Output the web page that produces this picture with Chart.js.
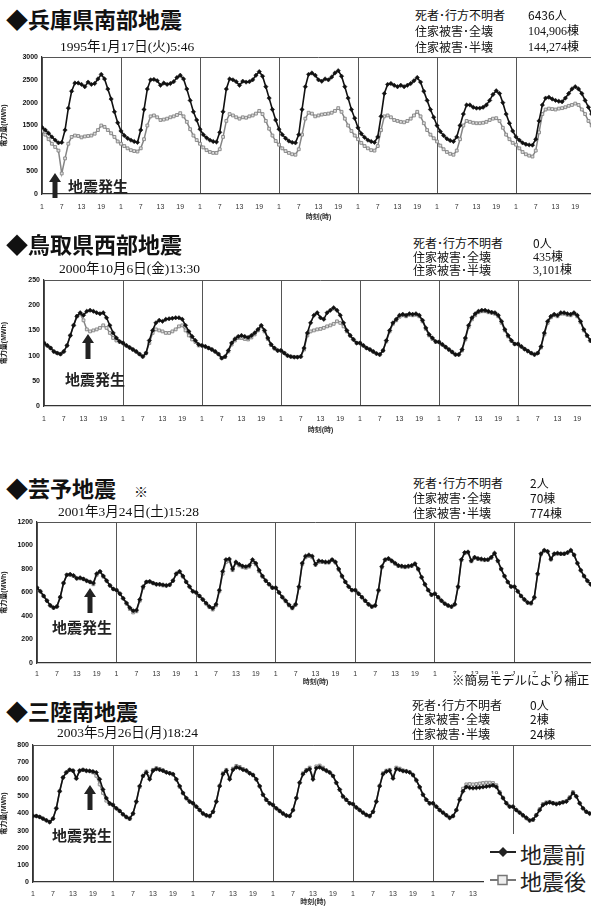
<!DOCTYPE html>
<html lang="ja">
<head>
<meta charset="utf-8">
<script src="https://cdn.jsdelivr.net/npm/chart.js@4.4.1/dist/chart.umd.min.js"></script>
<style>
body { margin:0; width:591px; height:911px; overflow:hidden; background:#fff; position:relative; font-family:"Noto Sans CJK JP", sans-serif; color:#111; }
.abs { position:absolute; white-space:nowrap; line-height:1; }
.ttl { font-size:22px; font-weight:bold; left:6px; }
.ttl small { font-size:14px; font-weight:normal; margin-left:18px; }
.date { font-family:"Liberation Serif", "Noto Sans CJK JP", serif; font-size:13.5px; }
.info { font-size:12px; }
.num { font-family:"Liberation Serif", "Noto Sans CJK JP", serif; }
.quake { font-size:15px; font-weight:bold; color:#222; }
canvas { position:absolute; left:0; }
.legend { position:absolute; left:484px; top:834px; width:110px; height:80px; background:#fff; }
.legend div { position:absolute; left:36px; font-size:22px; line-height:1; color:#222; }
</style>
</head>
<body>

<!-- 1: 兵庫県南部地震 -->
<canvas id="c1" width="620" height="175" style="top:47px"></canvas>
<div class="abs ttl" style="top:7px">◆兵庫県南部地震</div>
<div class="abs date" style="left:60px;top:40px">1995年1月17日(火)5:46</div>
<div class="abs info" style="left:415px;top:9px">死者･行方不明者</div>
<div class="abs info" style="left:528px;top:9px">6436人</div>
<div class="abs info" style="left:415px;top:25px">住家被害･全壊</div>
<div class="abs info num" style="left:528px;top:25px">104,906棟</div>
<div class="abs info" style="left:415px;top:41px">住家被害･半壊</div>
<div class="abs info num" style="left:528px;top:41px">144,274棟</div>
<svg class="abs" style="left:49px;top:173px" width="12" height="25"><polygon points="6,0 12,9 8.5,9 8.5,25 3.5,25 3.5,9 0,9" fill="#222"/></svg>
<div class="abs quake" style="left:68px;top:178px">地震発生</div>

<!-- 2: 鳥取県西部地震 -->
<canvas id="c2" width="620" height="165" style="top:270px"></canvas>
<div class="abs ttl" style="top:232px">◆鳥取県西部地震</div>
<div class="abs date" style="left:59px;top:262px">2000年10月6日(金)13:30</div>
<div class="abs info" style="left:413px;top:237px">死者･行方不明者</div>
<div class="abs info" style="left:533px;top:237px">0人</div>
<div class="abs info" style="left:413px;top:251px">住家被害･全壊</div>
<div class="abs info num" style="left:533px;top:251px">435棟</div>
<div class="abs info" style="left:413px;top:264px">住家被害･半壊</div>
<div class="abs info num" style="left:533px;top:264px">3,101棟</div>
<svg class="abs" style="left:82px;top:334px" width="12" height="25"><polygon points="6,0 12,9 8.5,9 8.5,25 3.5,25 3.5,9 0,9" fill="#222"/></svg>
<div class="abs quake" style="left:65px;top:371px">地震発生</div>

<!-- 3: 芸予地震 -->
<canvas id="c3" width="620" height="175" style="top:512px"></canvas>
<div class="abs ttl" style="top:476px">◆芸予地震<small>※</small></div>
<div class="abs date" style="left:58px;top:505px">2001年3月24日(土)15:28</div>
<div class="abs info" style="left:413px;top:477px">死者･行方不明者</div>
<div class="abs info" style="left:530px;top:477px">2人</div>
<div class="abs info" style="left:413px;top:492px">住家被害･全壊</div>
<div class="abs info" style="left:530px;top:492px">70棟</div>
<div class="abs info" style="left:413px;top:507px">住家被害･半壊</div>
<div class="abs info" style="left:530px;top:507px">774棟</div>
<svg class="abs" style="left:84px;top:588px" width="12" height="25"><polygon points="6,0 12,9 8.5,9 8.5,25 3.5,25 3.5,9 0,9" fill="#222"/></svg>
<div class="abs quake" style="left:52px;top:619px">地震発生</div>
<div class="abs" style="left:452px;top:674px;font-size:12.5px;background:#fff">※簡易モデルにより補正</div>

<!-- 4: 三陸南地震 -->
<canvas id="c4" width="620" height="172" style="top:735px"></canvas>
<div class="abs ttl" style="top:699px">◆三陸南地震</div>
<div class="abs date" style="left:57px;top:726px">2003年5月26日(月)18:24</div>
<div class="abs info" style="left:412px;top:699px">死者･行方不明者</div>
<div class="abs info" style="left:530px;top:699px">0人</div>
<div class="abs info" style="left:412px;top:713px">住家被害･全壊</div>
<div class="abs info" style="left:530px;top:713px">2棟</div>
<div class="abs info" style="left:412px;top:728px">住家被害･半壊</div>
<div class="abs info" style="left:530px;top:728px">24棟</div>
<svg class="abs" style="left:84px;top:785px" width="12" height="25"><polygon points="6,0 12,9 8.5,9 8.5,25 3.5,25 3.5,9 0,9" fill="#222"/></svg>
<div class="abs quake" style="left:52px;top:827px">地震発生</div>

<div class="legend">
  <svg style="position:absolute;left:4px;top:12px" width="30" height="12"><line x1="2" y1="6" x2="28" y2="6" stroke="#222" stroke-width="2"/><polygon points="15,1 20,6 15,11 10,6" fill="#222"/></svg>
  <div style="top:8px">地震前</div>
  <svg style="position:absolute;left:4px;top:40px" width="30" height="12"><line x1="2" y1="6" x2="28" y2="6" stroke="#777" stroke-width="2"/><rect x="10" y="1.5" width="9" height="9" fill="#eee" stroke="#777" stroke-width="1.5"/></svg>
  <div style="top:35px">地震後</div>
</div>

<script>
// hour tick labels (every 6 hours, repeating each day)
const hourTicks = ['1', '7', '13', '19'];
const hourIndex = Array.from({ length: 168 }, (_, i) => i);

// 兵庫県南部地震 1995 (MWh), 7 days x 24 hours
const hyogoBefore = [
  1460,1400,1330,1250,1180,1120,1130,1400,1880,2250,2430,2430,2400,2350,2450,2400,2420,2520,2620,2520,2300,2080,1800,1560,
  1380,1280,1220,1180,1150,1130,1400,1850,2300,2500,2510,2480,2380,2430,2400,2420,2460,2550,2600,2520,2300,2050,1800,1620,
  1420,1300,1230,1180,1150,1140,1350,1800,2300,2520,2500,2460,2380,2470,2450,2460,2500,2600,2680,2580,2350,2100,1850,1620,
  1420,1300,1220,1160,1130,1120,1300,1850,2350,2620,2650,2600,2500,2470,2520,2500,2560,2650,2700,2580,2350,2100,1850,1660,
  1450,1320,1240,1180,1150,1130,1250,1700,2200,2400,2420,2380,2350,2380,2350,2380,2420,2480,2550,2450,2250,2050,1850,1680,
  1500,1370,1280,1210,1170,1150,1250,1500,1750,1950,1950,1900,1880,1880,1900,1950,2050,2180,2260,2200,2000,1750,1550,1380,
  1250,1180,1120,1090,1075,1070,1200,1600,1950,2100,2120,2080,2050,2030,2020,2100,2200,2300,2350,2300,2200,2050,1900,1750
];
const hyogoAfter = [
  1380,1300,1200,1100,1030,950,450,780,1100,1250,1280,1270,1240,1260,1270,1280,1320,1400,1500,1470,1400,1330,1250,1150,
  1100,1050,1000,960,940,930,1000,1200,1500,1700,1720,1680,1620,1630,1650,1680,1700,1730,1770,1700,1580,1420,1280,1180,
  1100,1020,960,920,900,900,980,1250,1600,1750,1720,1680,1650,1680,1670,1700,1720,1760,1820,1750,1600,1430,1280,1160,
  1080,1000,940,900,870,860,980,1300,1650,1780,1760,1700,1720,1740,1750,1760,1780,1820,1880,1800,1650,1500,1380,1280,
  1200,1120,1050,1000,960,950,1050,1400,1700,1720,1680,1620,1600,1580,1570,1600,1650,1720,1800,1700,1550,1400,1300,1220,
  1150,1060,980,920,880,860,950,1200,1500,1600,1580,1560,1550,1550,1560,1580,1620,1650,1660,1600,1450,1300,1200,1120,
  1080,1000,920,870,840,820,950,1350,1750,1850,1870,1860,1850,1870,1880,1900,1930,1950,1980,1950,1850,1750,1600,1500
];

// 鳥取県西部地震 2000
const tottoriBefore = [
  125,120,115,108,105,103,108,120,140,160,178,185,180,188,190,188,185,183,185,175,160,145,135,128,
  125,120,116,112,108,103,98,105,130,150,165,170,168,172,173,174,175,175,172,160,148,138,130,122,
  120,118,115,112,108,103,95,98,110,125,133,138,140,138,136,140,145,152,160,150,135,122,115,110,
  110,105,100,98,97,97,98,115,145,165,180,185,175,172,185,190,195,190,180,165,150,140,132,125,
  125,120,115,112,108,104,102,110,130,150,165,172,180,182,180,183,182,183,180,170,155,142,135,128,
  127,122,117,112,107,102,102,112,135,160,175,183,188,190,190,188,186,185,180,168,152,140,130,123,
  123,118,113,109,105,102,105,118,145,168,178,182,180,185,185,183,182,185,180,168,152,140,130,122
];
const tottoriAfter = [
  125,120,115,108,105,103,108,120,140,160,178,183,170,152,148,150,152,155,160,155,145,135,130,127,
  125,120,116,112,108,103,98,105,125,145,152,150,148,145,145,148,152,158,160,150,140,132,127,120,
  120,118,115,112,108,103,95,97,108,122,130,135,135,133,132,136,142,150,158,148,133,121,114,110,
  110,105,100,98,97,97,98,112,140,148,150,152,153,155,158,160,163,168,165,158,148,140,132,125,
  125,120,115,112,108,104,102,110,128,148,163,170,177,180,178,181,180,181,178,168,153,140,133,127,
  127,122,117,112,107,102,102,110,132,157,172,180,186,188,188,186,185,183,178,165,150,138,129,123,
  123,118,113,109,105,102,105,116,142,165,176,180,178,183,183,181,180,183,178,166,150,139,129,122
];

// 芸予地震 2001
const geiyoBefore = [
  640,610,570,530,490,470,480,560,680,750,755,745,720,725,715,700,690,680,760,780,740,700,660,630,
  620,590,550,510,470,445,450,540,650,690,695,680,670,670,665,660,665,700,760,780,740,690,650,610,
  600,570,540,510,480,465,500,620,780,880,885,800,860,840,825,820,830,880,850,790,740,700,670,640,
  640,600,560,530,495,470,500,650,850,910,920,910,840,870,865,860,860,880,860,800,740,690,650,620,
  620,590,560,530,500,480,490,620,820,880,890,870,850,830,825,820,825,830,845,800,730,670,620,580,
  590,560,530,505,490,480,500,650,880,940,945,870,900,890,885,880,880,900,935,870,800,740,690,650,
  650,610,570,540,515,510,560,760,930,960,950,885,930,935,930,930,940,960,920,850,790,740,700,670
];
const geiyoAfter = [
  640,610,570,530,490,470,480,560,680,750,750,740,720,720,715,700,690,670,750,775,735,700,660,630,
  620,590,550,505,460,430,440,530,640,690,690,680,670,668,660,658,665,700,755,775,735,690,650,610,
  600,570,540,505,475,455,490,610,760,860,870,790,850,830,815,810,820,860,840,780,735,700,670,640,
  640,600,560,525,490,465,495,640,840,900,910,900,835,860,860,855,855,875,855,795,735,690,650,620,
  620,590,560,528,498,478,488,615,815,875,885,865,845,825,820,815,820,825,840,795,728,668,620,580,
  590,560,530,505,488,478,498,645,875,935,940,865,895,885,880,875,878,895,930,865,798,738,688,650,
  650,610,570,540,512,506,555,755,925,955,948,880,925,930,928,928,938,955,918,848,788,738,700,670
];

// 三陸南地震 2003
const sanrikuBefore = [
  385,385,380,370,360,350,370,430,530,610,640,655,650,605,650,655,650,648,645,640,600,540,490,460,
  450,430,415,395,380,370,400,470,560,620,640,600,650,660,655,650,640,635,630,600,560,520,490,470,
  460,440,420,400,390,385,410,470,560,630,650,600,655,670,665,655,650,635,625,600,560,510,480,460,
  450,430,415,400,388,385,420,490,580,630,650,660,600,665,670,660,650,640,620,580,540,500,480,460,
  455,435,420,405,392,385,410,470,560,630,645,650,605,660,655,648,645,640,625,595,555,510,480,460,
  460,440,420,405,390,375,385,420,480,530,555,550,548,550,552,555,558,560,565,555,520,490,460,440,
  440,420,405,390,375,360,365,390,420,450,460,465,460,455,460,465,470,490,520,500,460,430,410,400
];
const sanrikuAfter = [
  385,385,380,370,360,350,370,430,530,610,640,655,650,605,650,655,650,648,640,620,570,520,475,455,
  450,430,415,395,378,368,398,468,555,618,645,610,655,665,660,652,642,636,628,598,556,518,488,468,
  460,440,420,400,388,383,408,470,562,635,655,605,662,678,672,660,652,636,624,598,558,508,478,458,
  450,430,415,400,388,385,420,490,580,635,655,668,610,675,680,668,652,640,618,578,538,498,478,460,
  455,435,420,405,390,383,408,470,562,635,650,655,610,668,662,652,648,642,624,592,552,508,478,458,
  460,440,420,405,390,375,385,420,485,545,570,572,570,572,575,578,580,580,578,565,525,492,462,440,
  440,420,405,388,372,358,362,392,425,455,465,468,462,458,462,468,472,495,525,500,460,430,410,400
];

Chart.defaults.font.family = '"Liberation Sans", "Noto Sans CJK JP", sans-serif';

function drawChart(id, before, after, o) {
  new Chart(document.getElementById(id), {
    type: 'line',
    data: {
      labels: hourIndex,
      datasets: [
        {
          label: '地震前', data: before,
          borderColor: '#111', backgroundColor: '#111', borderWidth: 1.6,
          pointStyle: 'rectRot', pointRadius: 2.2, pointBorderWidth: 0.5
        },
        {
          label: '地震後', data: after,
          borderColor: '#858585', backgroundColor: '#e0e0e0', borderWidth: 1.5,
          pointStyle: 'rect', pointRadius: 2, pointBorderColor: '#858585', pointBorderWidth: 0.9
        }
      ]
    },
    options: {
      responsive: false,
      animation: false,
      layout: { padding: { top: 10, right: o.padRight, bottom: 0, left: 0 } },
      plugins: { legend: { display: false }, tooltip: { enabled: false } },
      scales: {
        x: {
          type: 'linear', min: 0, max: 168,
          afterFit: s => { s.height = o.xh; },
          ticks: {
            stepSize: 6, autoSkip: false, maxRotation: 0, padding: o.tickPad,
            font: { size: 7 }, color: '#333',
            callback: v => hourTicks[(v % 24) / 6]
          },
          grid: {
            color: c => (c.tick && c.tick.value % 24 === 0) ? '#555' : 'rgba(0,0,0,0)',
            drawTicks: false
          },
          border: { color: '#333', width: 1.2 },
          title: { display: true, text: '時刻(時)', font: { size: 7, weight: 'bold' }, color: '#333', padding: { top: 0, bottom: 1 } }
        },
        y: {
          min: 0, max: o.max,
          afterFit: s => { s.width = o.left; },
          ticks: {
            stepSize: o.step, padding: 4, font: { size: 7, weight: 'bold' }, color: '#111',
            callback: v => String(v)
          },
          grid: {
            color: c => (c.tick && c.tick.value === o.max) ? '#555' : 'rgba(0,0,0,0)',
            drawTicks: false
          },
          border: { color: '#333', width: 1.2 },
          title: { display: true, text: '電力量(MWh)', font: { size: 7, weight: 'bold' }, color: '#222', padding: 0 }
        }
      }
    }
  });
}

drawChart('c1', hyogoBefore, hyogoAfter, { left: 42, padRight: 25, xh: 28, tickPad: 9, max: 3000, step: 500 });
drawChart('c2', tottoriBefore, tottoriAfter, { left: 44, padRight: 23, xh: 29, tickPad: 8.5, max: 250, step: 50 });
drawChart('c3', geiyoBefore, geiyoAfter, { left: 37, padRight: 26, xh: 24, tickPad: 6.5, max: 1200, step: 200 });
drawChart('c4', sanrikuBefore, sanrikuAfter, { left: 33, padRight: 27, xh: 25, tickPad: 7.5, max: 800, step: 100 });
</script>
</body>
</html>
